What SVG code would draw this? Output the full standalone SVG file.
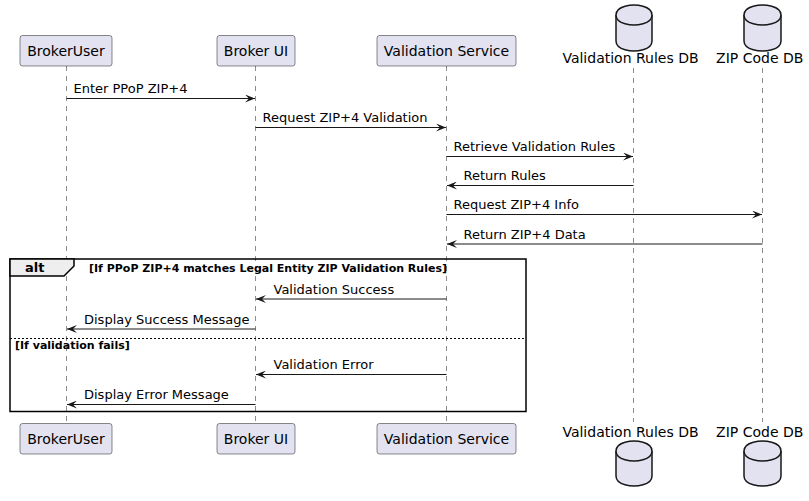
<svg xmlns="http://www.w3.org/2000/svg" width="809" height="501" viewBox="0 0 809 501">
<defs>
<marker id="ah" markerUnits="userSpaceOnUse" viewBox="0 0 10 8" refX="10" refY="4" markerWidth="10" markerHeight="8" orient="auto">
<path d="M0,0 L10,4 L0,8 L4,4 Z" fill="#181818"/>
</marker>
</defs>
<style>
.box{fill:#E2E2F0;stroke:#181818;stroke-width:0.5}
.db{fill:#E2E2F0;stroke:#181818;stroke-width:1.5}
.life{stroke:#181818;stroke-width:0.5;stroke-dasharray:5,5;fill:none}
.msg{stroke:#181818;stroke-width:1;fill:none;marker-end:url(#ah)}
.pt{font-family:"DejaVu Sans",sans-serif;font-size:14px;fill:#000;text-anchor:middle}
.mt{font-family:"DejaVu Sans",sans-serif;font-size:13px;fill:#000}
.gt{font-family:"DejaVu Sans",sans-serif;font-size:11px;font-weight:bold;fill:#000}
</style>
<g id="lifelines">
<line class="life" x1="66.5" y1="66" x2="66.5" y2="424"/>
<line class="life" x1="255.5" y1="66" x2="255.5" y2="424"/>
<line class="life" x1="446.5" y1="66" x2="446.5" y2="424"/>
<line class="life" x1="633.5" y1="68" x2="633.5" y2="422"/>
<line class="life" x1="762.5" y1="68" x2="762.5" y2="422"/>
</g>
<g id="alt">
<rect x="10" y="259" width="516" height="152.5" fill="none" stroke="#000" stroke-width="1.5"/>
<polygon points="10,259 74,259 74,266 64,276 10,276" fill="#EEEEEE" stroke="#000" stroke-width="1.5"/>
<text x="25" y="272" style="font-family:'DejaVu Sans',sans-serif;font-size:13px;font-weight:bold">alt</text>
<text class="gt" x="89" y="271.5">[If PPoP ZIP+4 matches Legal Entity ZIP Validation Rules]</text>
<line x1="10" y1="338.5" x2="526" y2="338.5" stroke="#000" stroke-width="1" stroke-dasharray="2,2"/>
<text class="gt" x="15" y="349">[If validation fails]</text>
</g>
<g id="BrokerUser">
<rect class="box" x="20" y="35.5" width="92" height="30.5" rx="2.5"/>
<text class="pt" x="66" y="56">BrokerUser</text>
<rect class="box" x="20" y="423.5" width="92" height="30.5" rx="2.5"/>
<text class="pt" x="66" y="444">BrokerUser</text>
</g>
<g id="BrokerUI">
<rect class="box" x="217" y="35.5" width="78" height="30.5" rx="2.5"/>
<text class="pt" x="256" y="56">Broker UI</text>
<rect class="box" x="217" y="423.5" width="78" height="30.5" rx="2.5"/>
<text class="pt" x="256" y="444">Broker UI</text>
</g>
<g id="ValidationService">
<rect class="box" x="377" y="35.5" width="139" height="30.5" rx="2.5"/>
<text class="pt" x="446.5" y="56">Validation Service</text>
<rect class="box" x="377" y="423.5" width="139" height="30.5" rx="2.5"/>
<text class="pt" x="446.5" y="444">Validation Service</text>
</g>
<g id="ValidationRulesDB">
<path class="db" d="M616,15 C616,5 634,5 634,5 C634,5 652,5 652,15 L652,41 C652,51 634,51 634,51 C634,51 616,51 616,41 Z"/>
<path class="db" fill="none" d="M616,15 C616,25 634,25 634,25 C634,25 652,25 652,15"/>
<text class="pt" x="630.5" y="63">Validation Rules DB</text>
<path class="db" d="M616,451 C616,441 634,441 634,441 C634,441 652,441 652,451 L652,476 C652,486 634,486 634,486 C634,486 616,486 616,476 Z"/>
<path class="db" fill="none" d="M616,451 C616,461 634,461 634,461 C634,461 652,461 652,451"/>
<text class="pt" x="630.5" y="436.5">Validation Rules DB</text>
</g>
<g id="ZIPCodeDB">
<path class="db" d="M744,15 C744,5 762.5,5 762.5,5 C762.5,5 781,5 781,15 L781,41 C781,51 762.5,51 762.5,51 C762.5,51 744,51 744,41 Z"/>
<path class="db" fill="none" d="M744,15 C744,25 762.5,25 762.5,25 C762.5,25 781,25 781,15"/>
<text class="pt" x="759.7" y="63">ZIP Code DB</text>
<path class="db" d="M744,451 C744,441 762.5,441 762.5,441 C762.5,441 781,441 781,451 L781,476 C781,486 762.5,486 762.5,486 C762.5,486 744,486 744,476 Z"/>
<path class="db" fill="none" d="M744,451 C744,461 762.5,461 762.5,461 C762.5,461 781,461 781,451"/>
<text class="pt" x="759.7" y="436.5">ZIP Code DB</text>
</g>
<g id="connectors">
<line class="msg" x1="66.5" y1="98.5" x2="255" y2="98.5"/>
<text class="mt" x="73.5" y="93">Enter PPoP ZIP+4</text>
<line class="msg" x1="255.5" y1="127.5" x2="446" y2="127.5"/>
<text class="mt" x="262.5" y="122">Request ZIP+4 Validation</text>
<line class="msg" x1="446.5" y1="156.5" x2="633" y2="156.5"/>
<text class="mt" x="453.5" y="151">Retrieve Validation Rules</text>
<line class="msg" x1="633.5" y1="185.5" x2="447" y2="185.5"/>
<text class="mt" x="463.5" y="180">Return Rules</text>
<line class="msg" x1="446.5" y1="214.5" x2="762" y2="214.5"/>
<text class="mt" x="453.5" y="209">Request ZIP+4 Info</text>
<line class="msg" x1="762.5" y1="244" x2="447" y2="244"/>
<text class="mt" x="463.5" y="238.5">Return ZIP+4 Data</text>
<line class="msg" x1="446.5" y1="299" x2="256" y2="299"/>
<text class="mt" x="273.5" y="293.5">Validation Success</text>
<line class="msg" x1="255.5" y1="329" x2="67" y2="329"/>
<text class="mt" x="84" y="323.5">Display Success Message</text>
<line class="msg" x1="446.5" y1="374.5" x2="256" y2="374.5"/>
<text class="mt" x="273.5" y="369">Validation Error</text>
<line class="msg" x1="255.5" y1="404.5" x2="67" y2="404.5"/>
<text class="mt" x="84" y="399">Display Error Message</text>
</g>
</svg>
